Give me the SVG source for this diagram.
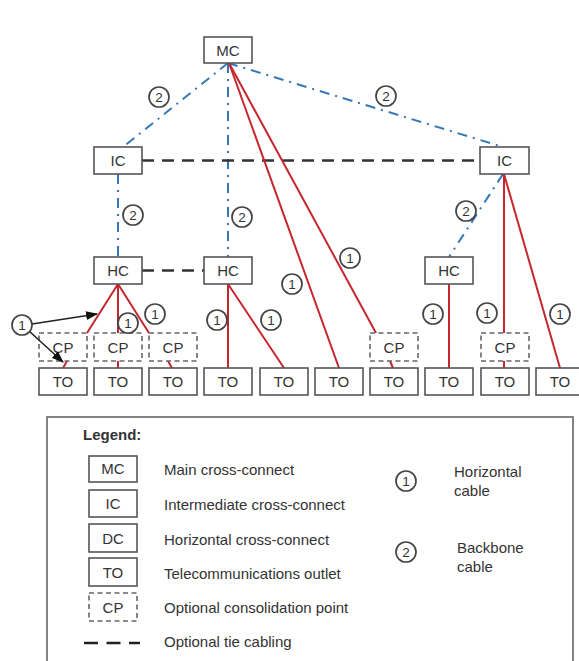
<svg xmlns="http://www.w3.org/2000/svg" width="579" height="661" viewBox="0 0 579 661">
<style>
.box{fill:#fff;stroke:#555;stroke-width:1.6}
.cp{fill:#fff;stroke:#666;stroke-width:1.6;stroke-dasharray:5 3.5}
.t{font-family:"Liberation Sans",Arial,sans-serif;font-size:15px;fill:#333;text-anchor:middle}
.lt{font-family:"Liberation Sans",Arial,sans-serif;font-size:15px;fill:#333}
.blue{stroke:#3677b5;stroke-width:2;fill:none;stroke-dasharray:10 6 2 6}
.tie{stroke:#333;stroke-width:2.5;fill:none;stroke-dasharray:12 8}
.red{stroke:#c6262e;stroke-width:2;fill:none}
.arr{stroke:#222;stroke-width:1.6;fill:none;marker-end:url(#ah)}
.lc{fill:#fff;stroke:#444;stroke-width:1.7}
.ln{font-family:"Liberation Sans",Arial,sans-serif;font-size:13.5px;fill:#333;text-anchor:middle}
</style>
<defs>
<marker id="ah" markerWidth="12" markerHeight="9" refX="11" refY="4.5" orient="auto" markerUnits="userSpaceOnUse">
<path d="M0,0 L12,4.5 L0,9 Z" fill="#111"/>
</marker>
</defs>
<rect width="579" height="661" fill="#fff"/>
<g id="connectors">
<line class="blue" x1="228" y1="63" x2="123" y2="147"/>
<line class="blue" x1="228" y1="63" x2="503" y2="147"/>
<line class="blue" x1="228" y1="63" x2="228" y2="257"/>
<line class="blue" x1="118" y1="174" x2="118" y2="257"/>
<line class="blue" x1="503" y1="174" x2="449" y2="257"/>
<line class="tie" x1="142" y1="160.5" x2="480" y2="160.5"/>
<line class="tie" x1="142" y1="270.5" x2="204" y2="270.5"/>
<line class="red" x1="118" y1="284" x2="87" y2="333"/>
<line class="red" x1="118" y1="284" x2="118" y2="333"/>
<line class="red" x1="118" y1="284" x2="149" y2="333"/>
<line class="red" x1="67" y1="361" x2="63" y2="368"/>
<line class="red" x1="118" y1="361" x2="118" y2="368"/>
<line class="red" x1="168" y1="361" x2="172" y2="368"/>
<line class="red" x1="228" y1="284" x2="228" y2="368"/>
<line class="red" x1="228" y1="284" x2="284" y2="368"/>
<line class="red" x1="229" y1="63" x2="339" y2="368"/>
<line class="red" x1="229" y1="63" x2="376" y2="333"/>
<line class="red" x1="390" y1="361" x2="393" y2="368"/>
<line class="red" x1="449" y1="284" x2="449" y2="368"/>
<line class="red" x1="504" y1="174" x2="504" y2="333"/>
<line class="red" x1="504" y1="361" x2="504" y2="368"/>
<line class="red" x1="504" y1="174" x2="560" y2="368"/>
</g>
<g id="MC"><rect class="box" x="204" y="37" width="48" height="26"/><text class="t" x="228" y="55.5">MC</text></g>
<g id="IC1"><rect class="box" x="94" y="147" width="48" height="27"/><text class="t" x="118" y="166">IC</text></g>
<g id="IC2"><rect class="box" x="480" y="147" width="49" height="27"/><text class="t" x="504.5" y="166">IC</text></g>
<g id="HC1"><rect class="box" x="94" y="257" width="48" height="27"/><text class="t" x="118" y="276">HC</text></g>
<g id="HC2"><rect class="box" x="204" y="257" width="48" height="27"/><text class="t" x="228" y="276">HC</text></g>
<g id="HC3"><rect class="box" x="425" y="257" width="48" height="27"/><text class="t" x="449" y="276">HC</text></g>
<g id="CP1"><rect class="cp" x="39" y="333" width="48" height="28"/><text class="t" x="63" y="352.5">CP</text></g>
<g id="CP2"><rect class="cp" x="94" y="333" width="48" height="28"/><text class="t" x="118" y="352.5">CP</text></g>
<g id="CP3"><rect class="cp" x="149" y="333" width="48" height="28"/><text class="t" x="173" y="352.5">CP</text></g>
<g id="CP7"><rect class="cp" x="370" y="333" width="48" height="28"/><text class="t" x="394" y="352.5">CP</text></g>
<g id="CP9"><rect class="cp" x="481" y="333" width="48" height="28"/><text class="t" x="505" y="352.5">CP</text></g>
<g id="TO1"><rect class="box" x="39" y="368" width="48" height="27"/><text class="t" x="63" y="387">TO</text></g>
<g id="TO2"><rect class="box" x="94" y="368" width="48" height="27"/><text class="t" x="118" y="387">TO</text></g>
<g id="TO3"><rect class="box" x="149" y="368" width="48" height="27"/><text class="t" x="173" y="387">TO</text></g>
<g id="TO4"><rect class="box" x="204" y="368" width="48" height="27"/><text class="t" x="228" y="387">TO</text></g>
<g id="TO5"><rect class="box" x="260" y="368" width="48" height="27"/><text class="t" x="284" y="387">TO</text></g>
<g id="TO6"><rect class="box" x="315" y="368" width="48" height="27"/><text class="t" x="339" y="387">TO</text></g>
<g id="TO7"><rect class="box" x="370" y="368" width="48" height="27"/><text class="t" x="394" y="387">TO</text></g>
<g id="TO8"><rect class="box" x="425" y="368" width="48" height="27"/><text class="t" x="449" y="387">TO</text></g>
<g id="TO9"><rect class="box" x="481" y="368" width="48" height="27"/><text class="t" x="505" y="387">TO</text></g>
<g id="TO10"><rect class="box" x="536" y="368" width="48" height="27"/><text class="t" x="560" y="387">TO</text></g>
<g id="arrows">
<line class="arr" x1="32" y1="324" x2="97" y2="314"/>
<line class="arr" x1="29" y1="331" x2="63" y2="362"/>
</g>
<g id="labels">
<g><circle class="lc" cx="159" cy="97" r="10"/><text class="ln" x="159" y="101.7">2</text></g>
<g><circle class="lc" cx="386" cy="96" r="10"/><text class="ln" x="386" y="100.7">2</text></g>
<g><circle class="lc" cx="133" cy="215" r="10"/><text class="ln" x="133" y="219.7">2</text></g>
<g><circle class="lc" cx="242" cy="217" r="10"/><text class="ln" x="242" y="221.7">2</text></g>
<g><circle class="lc" cx="466" cy="211" r="10"/><text class="ln" x="466" y="215.7">2</text></g>
<g><circle class="lc" cx="22" cy="325" r="10"/><text class="ln" x="22" y="329.7">1</text></g>
<g><circle class="lc" cx="128" cy="323" r="10"/><text class="ln" x="128" y="327.7">1</text></g>
<g><circle class="lc" cx="155" cy="314" r="10"/><text class="ln" x="155" y="318.7">1</text></g>
<g><circle class="lc" cx="217" cy="320" r="10"/><text class="ln" x="217" y="324.7">1</text></g>
<g><circle class="lc" cx="271" cy="320" r="10"/><text class="ln" x="271" y="324.7">1</text></g>
<g><circle class="lc" cx="292" cy="284" r="10"/><text class="ln" x="292" y="288.7">1</text></g>
<g><circle class="lc" cx="350" cy="258" r="10"/><text class="ln" x="350" y="262.7">1</text></g>
<g><circle class="lc" cx="433" cy="314" r="10"/><text class="ln" x="433" y="318.7">1</text></g>
<g><circle class="lc" cx="487" cy="313" r="10"/><text class="ln" x="487" y="317.7">1</text></g>
<g><circle class="lc" cx="560" cy="314" r="10"/><text class="ln" x="560" y="318.7">1</text></g>
</g>
<g id="legend">
<rect x="47" y="417" width="526" height="252" fill="none" stroke="#666" stroke-width="1.6"/>
<text class="lt" x="83" y="440" font-weight="bold">Legend:</text>
<rect class="box" x="89" y="456" width="48" height="26"/><text class="t" x="113" y="474">MC</text>
<rect class="box" x="89" y="490" width="48" height="27"/><text class="t" x="113" y="509">IC</text>
<rect class="box" x="89" y="524" width="48" height="28"/><text class="t" x="113" y="543.5">DC</text>
<rect class="box" x="89" y="558" width="48" height="28"/><text class="t" x="113" y="577.5">TO</text>
<rect class="cp" x="89" y="593" width="48" height="28"/><text class="t" x="113" y="612.5">CP</text>
<line x1="84" y1="643" x2="140" y2="643" stroke="#222" stroke-width="2.5" stroke-dasharray="14 8.5"/>
<text class="lt" x="164" y="475">Main cross-connect</text>
<text class="lt" x="164" y="510">Intermediate cross-connect</text>
<text class="lt" x="164" y="545">Horizontal cross-connect</text>
<text class="lt" x="164" y="579">Telecommunications outlet</text>
<text class="lt" x="164" y="613">Optional consolidation point</text>
<text class="lt" x="164" y="647">Optional tie cabling</text>
<circle class="lc" cx="406" cy="481" r="10"/><text class="ln" x="406" y="485.7">1</text>
<circle class="lc" cx="406" cy="552" r="10"/><text class="ln" x="406" y="556.7">2</text>
<text class="lt" x="454" y="477">Horizontal</text>
<text class="lt" x="454" y="496">cable</text>
<text class="lt" x="457" y="553">Backbone</text>
<text class="lt" x="457" y="572">cable</text>
</g>
</svg>
